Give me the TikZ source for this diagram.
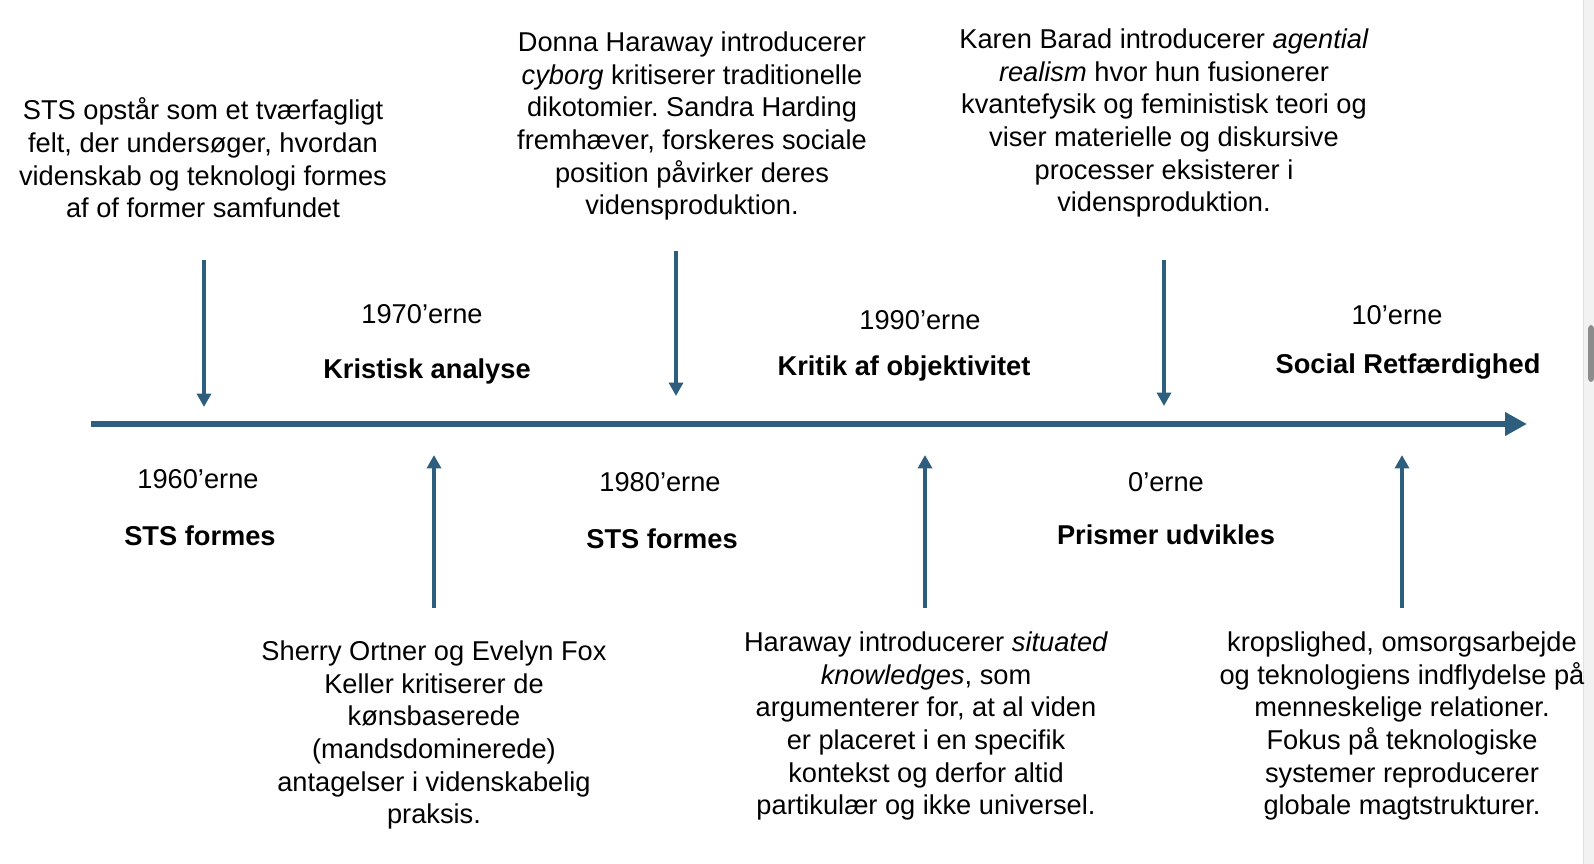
\documentclass[tikz,border=0pt]{standalone}
\usepackage{fontspec}
\setmainfont{Liberation Sans}
\usepackage{tikz}
\usetikzlibrary{positioning, arrows.meta}
\usepackage{xcolor}
\definecolor{accent}{HTML}{2D5E7E}
\frenchspacing

\begin{document}
\begin{tikzpicture}[
          x=0.02cm, y=-0.02cm,
          event/.style={align=center, inner sep=0pt,
                        font=\fontsize{15.5}{18.6}\selectfont},
          period/.style={inner sep=0pt, font=\fontsize{15.5}{18.6}\selectfont},
          theme/.style={inner sep=0pt, font=\fontsize{15.5}{18.6}\selectfont\bfseries},
          pointer/.style={draw=accent, line width=2.3pt,
                          -{Triangle[length=0.27cm, width=0.28cm]}},
          axis/.style={draw=accent, line width=3.4pt,
                       -{Triangle[length=0.44cm, width=0.45cm]}},
        ]
        \useasboundingbox (0,0) rectangle (1594,864);
        % scrollbar of the screenshot
        \fill[black!5] (1583,0) rectangle (1594,864);
        \draw[black!12] (1583,0) -- (1583,864);
        \fill[black!45, rounded corners=2pt] (1588,325) rectangle (1594,382);

        % timeline
        \coordinate (start) at (91,424);
        \coordinate (stop)  at (1527,424);
        \draw[axis] (start) -- (stop);

        % events above the line
        \node[event] (sts) at (203,158) {STS opstår som et tværfagligt\\ felt, der undersøger, hvordan\\ videnskab og teknologi formes\\ af of former samfundet};
        \node[event] (cyborg) at (692,126) {Donna Haraway introducerer\\ \textit{cyborg} kritiserer traditionelle\\ dikotomier. Sandra Harding\\ fremhæver, forskeres sociale\\ position påvirker deres\\ vidensproduktion.};
        \node[event] (barad) at (1164,123) {Karen Barad introducerer \textit{agential}\\ \textit{realism} hvor hun fusionerer\\ kvantefysik og feministisk teori og\\ viser materielle og diskursive\\ processer eksisterer i\\ vidensproduktion.};

        % events below the line
        \node[event] (ortner) at (434,735) {Sherry Ortner og Evelyn Fox\\ Keller kritiserer de\\ kønsbaserede\\ (mandsdominerede)\\ antagelser i videnskabelig\\ praksis.};
        \node[event] (situated) at (926,726) {Haraway introducerer \textit{situated}\\ \textit{knowledges}, som\\ argumenterer for, at al viden\\ er placeret i en specifik\\ kontekst og derfor altid\\ partikulær og ikke universel.};
        \node[event] (krop) at (1402,726) {kropslighed, omsorgsarbejde\\ og teknologiens indflydelse på\\ menneskelige relationer.\\ Fokus på teknologiske\\ systemer reproducerer\\ globale magtstrukturer.};

        % decades and themes
        \node[period] (d60) at (198,479) {1960’erne};
        \node[theme]  (t60) at (200,536) {STS formes};
        \node[period] (d70) at (422,314) {1970’erne};
        \node[theme]  (t70) at (427,371) {Kristisk analyse};
        \node[period] (d80) at (660,482) {1980’erne};
        \node[theme]  (t80) at (662,539) {STS formes};
        \node[period] (d90) at (920,320) {1990’erne};
        \node[theme]  (t90) at (904,368) {Kritik af objektivitet};
        \node[period] (d00) at (1166,482) {0’erne};
        \node[theme]  (t00) at (1166,535) {Prismer udvikles};
        \node[period] (d10) at (1397,315) {10’erne};
        \node[theme]  (t10) at (1408,367) {Social Retfærdighed};

        % pointers to the line
        \coordinate (sts-a) at (204,260);   \coordinate (sts-b) at (204,407);
        \coordinate (cyb-a) at (676,251);   \coordinate (cyb-b) at (676,396);
        \coordinate (bar-a) at (1164,260);  \coordinate (bar-b) at (1164,406);
        \coordinate (ort-a) at (434,608);   \coordinate (ort-b) at (434,455);
        \coordinate (sit-a) at (925,608);   \coordinate (sit-b) at (925,455);
        \coordinate (kro-a) at (1402,608);  \coordinate (kro-b) at (1402,455);
        \draw[pointer] (sts-a) -- (sts-b);
        \draw[pointer] (cyb-a) -- (cyb-b);
        \draw[pointer] (bar-a) -- (bar-b);
        \draw[pointer] (ort-a) -- (ort-b);
        \draw[pointer] (sit-a) -- (sit-b);
        \draw[pointer] (kro-a) -- (kro-b);
      \end{tikzpicture}
\end{document}
